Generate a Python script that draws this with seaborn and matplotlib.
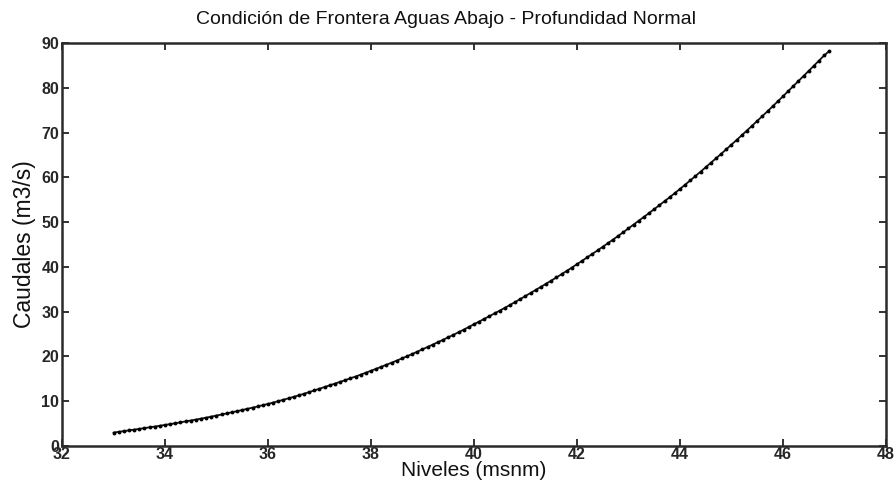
import matplotlib
matplotlib.use("Agg")
import matplotlib.pyplot as plt
import seaborn as sns
import pandas as pd

niveles = [
    33.0, 33.1, 33.2, 33.3, 33.4, 33.5, 33.6, 33.7, 33.8, 33.9,
    34.0, 34.1, 34.2, 34.3, 34.4, 34.5, 34.6, 34.7, 34.8, 34.9,
    35.0, 35.1, 35.2, 35.3, 35.4, 35.5, 35.6, 35.7, 35.8, 35.9,
    36.0, 36.1, 36.2, 36.3, 36.4, 36.5, 36.6, 36.7, 36.8, 36.9,
    37.0, 37.1, 37.2, 37.3, 37.4, 37.5, 37.6, 37.7, 37.8, 37.9,
    38.0, 38.1, 38.2, 38.3, 38.4, 38.5, 38.6, 38.7, 38.8, 38.9,
    39.0, 39.1, 39.2, 39.3, 39.4, 39.5, 39.6, 39.7, 39.8, 39.9,
    40.0, 40.1, 40.2, 40.3, 40.4, 40.5, 40.6, 40.7, 40.8, 40.9,
    41.0, 41.1, 41.2, 41.3, 41.4, 41.5, 41.6, 41.7, 41.8, 41.9,
    42.0, 42.1, 42.2, 42.3, 42.4, 42.5, 42.6, 42.7, 42.8, 42.9,
    43.0, 43.1, 43.2, 43.3, 43.4, 43.5, 43.6, 43.7, 43.8, 43.9,
    44.0, 44.1, 44.2, 44.3, 44.4, 44.5, 44.6, 44.7, 44.8, 44.9,
    45.0, 45.1, 45.2, 45.3, 45.4, 45.5, 45.6, 45.7, 45.8, 45.9,
    46.0, 46.1, 46.2, 46.3, 46.4, 46.5, 46.6, 46.7, 46.8, 46.9,
]

caudales = [
    3.00, 3.16, 3.32, 3.48, 3.65, 3.82, 3.99, 4.16, 4.34, 4.52,
    4.70, 4.89, 5.08, 5.28, 5.48, 5.69, 5.90, 6.11, 6.33, 6.56,
    6.80, 7.04, 7.28, 7.53, 7.78, 8.04, 8.30, 8.56, 8.83, 9.11,
    9.40, 9.70, 10.01, 10.33, 10.65, 10.98, 11.32, 11.67, 12.03, 12.41,
    12.80, 13.17, 13.55, 13.93, 14.32, 14.71, 15.11, 15.51, 15.93, 16.36,
    16.80, 17.24, 17.69, 18.14, 18.60, 19.07, 19.55, 20.04, 20.54, 21.06,
    21.60, 22.12, 22.65, 23.18, 23.72, 24.27, 24.83, 25.40, 25.98, 26.58,
    27.20, 27.79, 28.39, 29.00, 29.61, 30.23, 30.86, 31.50, 32.15, 32.82,
    33.50, 34.17, 34.85, 35.54, 36.23, 36.93, 37.64, 38.36, 39.09, 39.84,
    40.60, 41.36, 42.13, 42.91, 43.69, 44.48, 45.28, 46.09, 46.91, 47.75,
    48.60, 49.44, 50.29, 51.15, 52.02, 52.89, 53.77, 54.66, 55.56, 56.47,
    57.40, 58.35, 59.31, 60.28, 61.26, 62.25, 63.24, 64.24, 65.25, 66.27,
    67.30, 68.34, 69.39, 70.45, 71.52, 72.59, 73.67, 74.76, 75.86, 76.97,
    78.10, 79.22, 80.35, 81.48, 82.62, 83.77, 84.92, 86.07, 87.23, 88.20,
]

x_ticks = [32, 34, 36, 38, 40, 42, 44, 46, 48]
y_ticks = [0, 10, 20, 30, 40, 50, 60, 70, 80, 90]

titulo = "Condición de Frontera Aguas Abajo - Profundidad Normal"
etiqueta_x = "Niveles (msnm)"
etiqueta_y = "Caudales (m3/s)"

sns.set_theme(style="ticks")
plt.rcParams["font.family"] = ["Liberation Sans", "DejaVu Sans"]
plt.rcParams["xtick.direction"] = "in"
plt.rcParams["ytick.direction"] = "in"

df = pd.DataFrame({"Niveles": niveles, "Caudales": caudales})

fig = plt.figure(figsize=(8.96, 4.90), dpi=100)
ax = fig.add_axes([0.0692, 0.0898, 0.9196, 0.8224])

sns.lineplot(data=df, x="Niveles", y="Caudales", ax=ax, color="#111111",
             linewidth=1.3, marker="o", markersize=2.8,
             markeredgewidth=0, markerfacecolor="#000000", sort=False)

ax.set_xlim(32, 48)
ax.set_ylim(0, 90)
ax.set_xticks(x_ticks)
ax.set_yticks(y_ticks)
ax.set_xticklabels([str(t) for t in x_ticks], fontsize=11.5, fontweight="bold")
ax.set_yticklabels([str(t) for t in y_ticks], fontsize=11.5, fontweight="bold")
ax.tick_params(axis="both", which="both", direction="in", length=5, width=1.3,
               color="#222222", top=True, right=True, pad=2)
ax.tick_params(axis="x", pad=1)

for s in ax.spines.values():
    s.set_visible(True)
    s.set_linewidth(1.8)
    s.set_color("#2a2a2a")

fig.text(446 / 896, 1 - 20 / 490, titulo, fontsize=14, ha="center", va="center",
         color="#111111")
ax.set_xlabel(etiqueta_x, fontsize=15, labelpad=-1, color="#111111")
ax.set_ylabel(etiqueta_y, fontsize=16.5, labelpad=4, color="#111111")
ax.grid(False)

fig.savefig("out.png", dpi=100, facecolor="white")
